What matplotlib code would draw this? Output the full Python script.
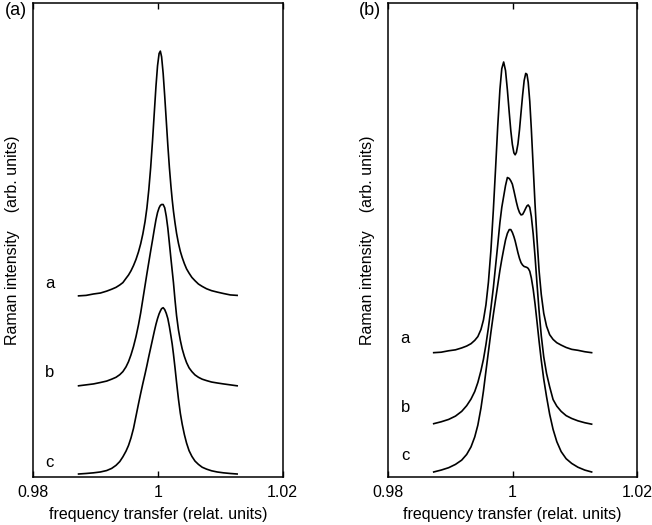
import matplotlib
matplotlib.use('Agg')
import matplotlib.pyplot as plt

plt.rcParams['font.family'] = ['Liberation Sans', 'DejaVu Sans']

# frequency transfer (relat. units) at which the traces were read
freq = [0.9873, 0.9885, 0.9897, 0.9908, 0.9918, 0.9926, 0.9933, 0.9939, 0.9944, 0.9949,
        0.9953, 0.9957, 0.9961, 0.9965, 0.9969, 0.99725, 0.9976, 0.99795, 0.99825, 0.99855,
        0.99885, 0.99915, 0.99945, 0.9997, 0.99995, 1.0002, 1.0004, 1.0006, 1.00085, 1.0011,
        1.00135, 1.0016, 1.00185, 1.0021, 1.0023, 1.0025, 1.00275, 1.0030, 1.0033, 1.0036,
        1.0039, 1.00425, 1.0046, 1.0050, 1.00545, 1.00595, 1.0065, 1.0071, 1.0078, 1.0086,
        1.0095, 1.0105, 1.0116, 1.0127]

# Raman intensity (arb. units), traces already offset vertically
# panel (a)
a_a = [38.2, 38.3, 38.6, 38.8, 39.2, 39.6, 40.0, 40.5, 41.0, 41.9,
       42.6, 43.5, 44.6, 45.9, 47.5, 49.2, 51.3, 53.9, 56.8, 60.6,
       65.3, 71.0, 77.3, 82.5, 86.8, 89.4, 89.9, 88.7, 85.2, 80.4,
       75.2, 70.0, 65.3, 61.3, 58.5, 56.1, 53.6, 51.4, 49.3, 47.6,
       46.3, 45.0, 43.9, 43.0, 42.1, 41.4, 40.7, 40.2, 39.7, 39.3,
       39.0, 38.7, 38.4, 38.3]
a_b = [19.2, 19.4, 19.6, 19.9, 20.2, 20.6, 21.0, 21.55, 22.2, 23.2,
       24.3, 25.75, 27.5, 29.6, 32.1, 34.6, 37.5, 40.4, 42.9, 45.3,
       47.7, 50.0, 52.4, 54.3, 55.8, 56.8, 57.3, 57.5, 57.5, 56.8,
       55.0, 52.5, 49.3, 46.0, 43.5, 41.0, 37.3, 34.0, 31.0, 28.8,
       27.0, 25.4, 24.1, 23.0, 22.2, 21.5, 21.0, 20.6, 20.3, 20.0,
       19.8, 19.6, 19.4, 19.2]
a_c = [0.57, 0.68, 0.82, 1.0, 1.3, 1.75, 2.4, 3.2, 4.2, 5.4,
       6.6, 8.2, 10.2, 12.8, 15.4, 17.6, 19.7, 21.7, 23.5, 25.4,
       27.2, 29.0, 30.8, 32.2, 33.4, 34.4, 35.0, 35.5, 35.7, 35.3,
       34.5, 33.4, 31.7, 29.7, 28.0, 25.9, 23.0, 19.9, 16.4, 13.4,
       11.1, 8.9, 7.1, 5.5, 4.3, 3.3, 2.6, 2.0, 1.6, 1.25,
       1.0, 0.82, 0.68, 0.57]
# panel (b)
b_a = [26.2, 26.3, 26.6, 26.8, 27.2, 27.6, 28.1, 28.8, 29.6, 31.1,
       33.1, 36.3, 41.1, 47.8, 56.5, 65.1, 74.1, 81.8, 86.2, 87.6,
       85.8, 81.7, 76.9, 73.1, 70.2, 68.4, 68.0, 68.5, 70.3, 73.3,
       77.0, 80.6, 83.7, 85.2, 85.0, 83.3, 79.3, 73.5, 65.5, 57.5,
       50.5, 43.5, 38.5, 34.5, 31.8, 30.0, 29.0, 28.3, 27.8, 27.3,
       26.9, 26.7, 26.4, 26.2]
b_b = [11.2, 11.6, 12.1, 12.8, 13.8, 15.0, 16.4, 18.0, 19.9, 22.4,
       24.8, 27.9, 31.5, 35.6, 40.0, 44.5, 49.0, 53.7, 56.9, 59.2,
       61.5, 63.2, 63.0, 62.5, 61.8, 60.4, 59.2, 58.0, 56.7, 55.8,
       55.3, 55.4, 56.0, 56.7, 57.2, 57.4, 56.9, 55.0, 51.3, 46.5,
       41.0, 35.0, 29.8, 25.3, 21.8, 19.0, 16.3, 14.9, 13.8, 12.9,
       12.3, 11.8, 11.4, 11.1]
b_c = [1.0, 1.4, 1.9, 2.6, 3.5, 4.7, 6.3, 8.4, 10.9, 14.5,
       18.1, 22.3, 26.4, 30.5, 34.3, 37.4, 40.5, 43.6, 45.9, 48.0,
       50.0, 51.4, 52.2, 52.2, 51.6, 50.7, 49.8, 48.7, 47.3, 46.1,
       45.2, 44.7, 44.4, 44.3, 44.2, 44.0, 43.4, 42.0, 39.6, 36.5,
       32.9, 28.6, 24.6, 20.6, 16.9, 13.2, 10.0, 7.4, 5.3, 3.8,
       2.8, 2.0, 1.4, 1.0]

curve_names = ['a', 'b', 'c']
xticks = [0.98, 1.0, 1.02]
xtick_labels = ['0.98', '1', '1.02']

fig = plt.figure(figsize=(6.52, 5.25), dpi=100)
ax1 = fig.add_axes([0.0506, 0.092, 0.383, 0.9017])
ax2 = fig.add_axes([0.5956, 0.092, 0.3814, 0.9017])

panels = [(ax1, [a_a, a_b, a_c], [40.9, 22.1, 3.1], '(a)', 0.025),
          (ax2, [b_a, b_b, b_c], [29.2, 14.6, 4.5], '(b)', 0.567)]

for ax, curves, label_y, tag, tagx in panels:
    for name, vals, ly in zip(curve_names, curves, label_y):
        ax.plot(freq, vals, color='black', lw=1.2)
        ax.text(0.9827, ly, name, fontsize=12, ha='center', va='center')
    ax.set_xlim(0.98, 1.02)
    ax.set_ylim(0, 100)
    ax.set_xticks(xticks)
    ax.set_xticklabels(xtick_labels, fontsize=11.5)
    ax.set_yticks([])
    ax.tick_params(axis='x', direction='in', top=True, length=4, width=1, pad=6)
    for sp in ax.spines.values():
        sp.set_linewidth(1.1)
    ax.set_xlabel('frequency transfer (relat. units)', fontsize=11.5)
    ax.xaxis.set_label_coords(0.5, -0.064)
    ax.set_ylabel('Raman intensity    (arb. units)', fontsize=11.5)
    ax.yaxis.set_label_coords(-0.052, 0.5)
    fig.text(tagx, 0.98, tag, fontsize=13, ha='center', va='center')

fig.savefig('out.png', dpi=100)
